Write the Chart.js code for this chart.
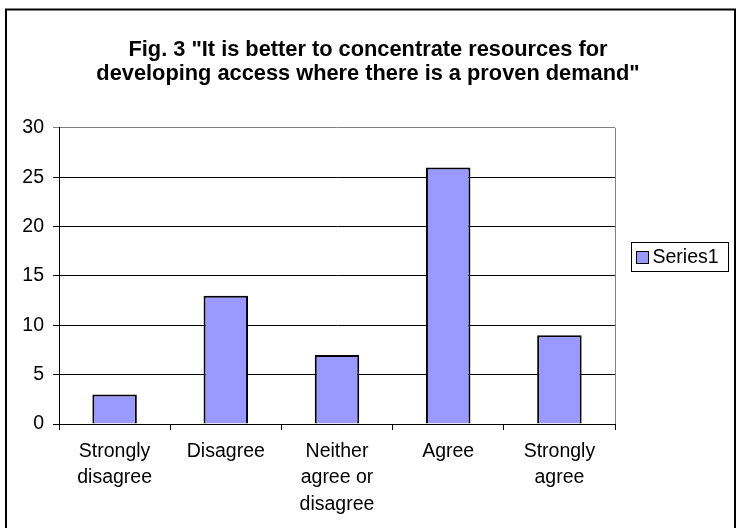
<!DOCTYPE html>
<html>
<head>
<meta charset="utf-8">
<script src="https://cdn.jsdelivr.net/npm/chart.js@4.4.1/dist/chart.umd.min.js"></script>
<style>
  html, body { margin: 0; padding: 0; background: #ffffff; }
  canvas { display: block; }
</style>
</head>
<body>
<canvas id="chart" width="736" height="528"></canvas>
<script>
// Survey responses for Fig. 3
const titleLines = ['Fig. 3 "It is better to concentrate resources for', 'developing access where there is a proven demand"'];
const categories = [['Strongly', 'disagree'], 'Disagree', ['Neither', 'agree or', 'disagree'], 'Agree', ['Strongly', 'agree']];
const seriesName = 'Series1';
const seriesValues = [3, 13, 7, 26, 9];
const yTicks = [0, 5, 10, 15, 20, 25, 30];

const FONT = '"Liberation Sans", Arial, Helvetica, sans-serif';
const BAR_FILL = '#9999ff';
const PLOT_EDGE = '#808080';

// Outer frame, plot-area edge and the boxed legend
const framePlugin = {
  id: 'frame',
  beforeDraw(chart) {
    const ctx = chart.ctx;
    ctx.save();
    ctx.fillStyle = '#ffffff';
    ctx.fillRect(0, 0, chart.width, chart.height);
    ctx.strokeStyle = '#000000';
    ctx.lineWidth = 2;
    ctx.strokeRect(6, 9.5, 729, 540);
    ctx.restore();
  },
  beforeDatasetsDraw(chart) {
    const { ctx, chartArea } = chart;
    ctx.save();
    ctx.strokeStyle = PLOT_EDGE;
    ctx.lineWidth = 1;
    ctx.beginPath();
    ctx.moveTo(Math.round(chartArea.right) + 0.5, chartArea.top);
    ctx.lineTo(Math.round(chartArea.right) + 0.5, chartArea.bottom);
    ctx.stroke();
    ctx.restore();
  },
  afterDraw(chart) {
    const ctx = chart.ctx;
    const ds = chart.data.datasets[0];
    const x = 631.5, y = 242.5, w = 97, h = 29;
    ctx.save();
    ctx.fillStyle = '#ffffff';
    ctx.fillRect(x, y, w, h);
    ctx.strokeStyle = '#000000';
    ctx.lineWidth = 1;
    ctx.strokeRect(x, y, w, h);
    const sw = 12;
    const sy = Math.round(y + h / 2 - sw / 2) + 0.5;
    ctx.fillStyle = ds.backgroundColor;
    ctx.fillRect(x + 5, sy, sw, sw);
    ctx.strokeRect(x + 5, sy, sw, sw);
    ctx.fillStyle = '#000000';
    ctx.font = '19.5px ' + FONT;
    ctx.textBaseline = 'middle';
    ctx.textAlign = 'left';
    ctx.fillText(ds.label, x + 21, y + h / 2 + 1);
    ctx.restore();
  }
};

new Chart(document.getElementById('chart'), {
  type: 'bar',
  data: {
    labels: categories,
    datasets: [{
      label: seriesName,
      data: seriesValues,
      backgroundColor: BAR_FILL,
      borderColor: '#000000',
      borderWidth: 2,
      borderSkipped: 'start',
      barPercentage: 0.8,
      categoryPercentage: 0.5,
      yAxisID: 'y'
    }]
  },
  options: {
    responsive: false,
    animation: false,
    devicePixelRatio: 1,
    layout: { padding: 0 },
    plugins: {
      legend: { display: false },
      tooltip: { enabled: false },
      title: {
        display: true,
        text: titleLines,
        color: '#000000',
        font: { family: FONT, size: 21.8, weight: 'bold', lineHeight: 1.1 },
        padding: { top: 38, bottom: 42 }
      }
    },
    scales: {
      x: {
        grid: {
          display: true,
          offset: true,
          drawOnChartArea: false,
          drawTicks: true,
          tickLength: 6,
          color: '#000000'
        },
        border: { display: true, color: '#000000', width: 1 },
        ticks: {
          color: '#000000',
          font: { family: FONT, size: 19.5, lineHeight: 1.37 },
          padding: 8,
          maxRotation: 0,
          autoSkip: false
        },
        afterFit(scale) { scale.height = 104; }
      },
      y: {
        min: yTicks[0],
        max: yTicks[yTicks.length - 1],
        grid: {
          display: true,
          drawTicks: true,
          tickLength: 6,
          lineWidth: 1,
          color: (c) => (c.tick && c.tick.value === yTicks[yTicks.length - 1]) ? PLOT_EDGE : '#000000'
        },
        border: { display: true, color: '#000000', width: 1 },
        ticks: {
          stepSize: yTicks[1] - yTicks[0],
          color: '#000000',
          font: { family: FONT, size: 19.5 },
          padding: 9
        },
        afterFit(scale) { scale.width = 59; }
      },
      // empty right-hand strip that holds the legend box
      legendSpace: {
        type: 'linear',
        position: 'right',
        display: true,
        grid: { display: false, drawTicks: false },
        border: { display: false },
        ticks: { display: false },
        afterFit(scale) { scale.width = 121; }
      }
    }
  },
  plugins: [framePlugin]
});
</script>
</body>
</html>
